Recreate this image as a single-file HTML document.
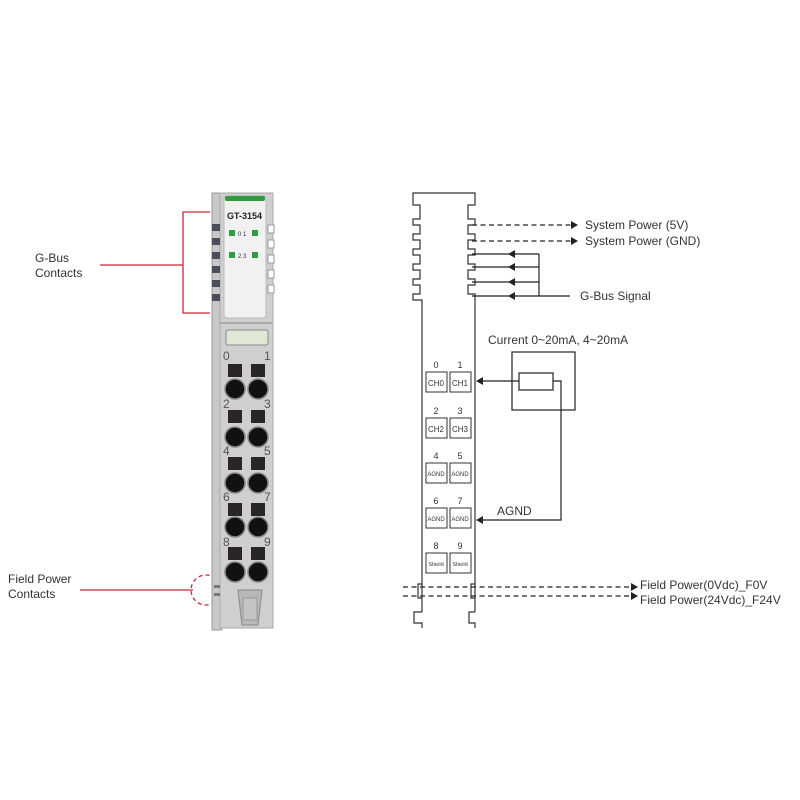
<!DOCTYPE html>
<html><head><style>body{margin:0;background:#fff}svg{display:block}text{font-family:"Liberation Sans",sans-serif}</style></head><body>
<svg width="800" height="800" viewBox="0 0 800 800" xmlns="http://www.w3.org/2000/svg">
<!-- Left labels -->
<g fill="#333" font-size="12">
<text x="35" y="262">G-Bus</text><text x="35" y="277">Contacts</text>
<text x="8" y="583">Field Power</text><text x="8" y="598">Contacts</text>
</g>
<g stroke="#c8283a" stroke-width="1.3" fill="none">
<path d="M100 265H183M210 212H183V313H210"/>
<path d="M80 590H193"/>
<circle cx="206" cy="590" r="15" stroke-dasharray="4 3"/>
</g>
<!-- Left module -->
<g>
<path d="M212 193H272V628H266V620H222V630H212Z" fill="#c8c8c8" stroke="#999"/>
<rect x="220" y="193" width="53" height="435" fill="#cfcfcf" stroke="#aaa"/>
<rect x="224" y="196" width="42" height="122" rx="3" fill="#f1f1f1" stroke="#bbb"/>
<rect x="225" y="196" width="40" height="5" rx="2" fill="#2f9a3f"/>
<text x="227" y="219" font-size="9" font-weight="bold" fill="#222">GT-3154</text>
<rect x="229" y="230" width="6" height="6" fill="#2aa040"/><rect x="252" y="230" width="6" height="6" fill="#2aa040"/>
<text x="238" y="236" font-size="6" fill="#333">0 1</text>
<rect x="229" y="252" width="6" height="6" fill="#2aa040"/><rect x="252" y="252" width="6" height="6" fill="#2aa040"/>
<text x="238" y="258" font-size="6" fill="#333">2 3</text>
<g fill="#4a4e5a">
<rect x="212" y="224" width="8" height="7"/><rect x="212" y="238" width="8" height="7"/><rect x="212" y="252" width="8" height="7"/><rect x="212" y="266" width="8" height="7"/><rect x="212" y="280" width="8" height="7"/><rect x="212" y="294" width="8" height="7"/>
</g>
<g fill="#fff" stroke="#999">
<rect x="268" y="225" width="6" height="8"/><rect x="268" y="240" width="6" height="8"/><rect x="268" y="255" width="6" height="8"/><rect x="268" y="270" width="6" height="8"/><rect x="268" y="285" width="6" height="8"/>
</g>
<rect x="220" y="322" width="53" height="2" fill="#aaa"/>
<rect x="226" y="330" width="42" height="15" rx="2" fill="#dfe8d4" stroke="#888"/>
<g font-size="12" fill="#555" font-family="Liberation Serif">
<text x="223" y="360">0</text><text x="264" y="360">1</text>
<text x="223" y="408">2</text><text x="264" y="408">3</text>
<text x="223" y="455">4</text><text x="264" y="455">5</text>
<text x="223" y="501">6</text><text x="264" y="501">7</text>
<text x="223" y="546">8</text><text x="264" y="546">9</text>
</g>
<g fill="#2a2626">
<rect x="228" y="364" width="14" height="13"/><rect x="251" y="364" width="14" height="13"/>
<rect x="228" y="410" width="14" height="13"/><rect x="251" y="410" width="14" height="13"/>
<rect x="228" y="457" width="14" height="13"/><rect x="251" y="457" width="14" height="13"/>
<rect x="228" y="503" width="14" height="13"/><rect x="251" y="503" width="14" height="13"/>
<rect x="228" y="547" width="14" height="13"/><rect x="251" y="547" width="14" height="13"/>
</g>
<g fill="#111" stroke="#888" stroke-width="1.5">
<circle cx="235" cy="389" r="10"/><circle cx="258" cy="389" r="10"/>
<circle cx="235" cy="437" r="10"/><circle cx="258" cy="437" r="10"/>
<circle cx="235" cy="483" r="10"/><circle cx="258" cy="483" r="10"/>
<circle cx="235" cy="527" r="10"/><circle cx="258" cy="527" r="10"/>
<circle cx="235" cy="572" r="10"/><circle cx="258" cy="572" r="10"/>
</g>
<rect x="214" y="585" width="6" height="3" fill="#777"/><rect x="214" y="593" width="6" height="3" fill="#777"/>
<path d="M238 590H262L258 625H242Z" fill="#b8b8b8" stroke="#888"/>
<rect x="243" y="598" width="14" height="22" fill="#c4c4c4" stroke="#999"/>
</g>
<!-- Right module -->
<g fill="none" stroke="#333" stroke-width="1.2">
<path d="M422 612V300H413V294H420V285H413V279H420V270H413V264H420V255H413V249H420V240H413V234H420V225H413V219H420V205H413V193H475V205H468V219H475V225H468V234H475V240H468V249H475V255H468V264H475V270H468V279H475V285H468V294H475V612"/>
<path d="M422 584H418V598H422M475 584H471V598H475" />
<path d="M422 612H414V623H422V628M475 612H469V623H475V628"/>
</g>
<g fill="none" stroke="#333" stroke-width="1">
<rect x="426" y="372" width="21" height="20"/><rect x="450" y="372" width="21" height="20"/>
<rect x="426" y="418" width="21" height="20"/><rect x="450" y="418" width="21" height="20"/>
<rect x="426" y="463" width="21" height="20"/><rect x="450" y="463" width="21" height="20"/>
<rect x="426" y="508" width="21" height="20"/><rect x="450" y="508" width="21" height="20"/>
<rect x="426" y="553" width="21" height="20"/><rect x="450" y="553" width="21" height="20"/>
</g>
<g font-size="9" fill="#333" text-anchor="middle">
<text x="436" y="368">0</text><text x="460" y="368">1</text>
<text x="436" y="414">2</text><text x="460" y="414">3</text>
<text x="436" y="459">4</text><text x="460" y="459">5</text>
<text x="436" y="504">6</text><text x="460" y="504">7</text>
<text x="436" y="549">8</text><text x="460" y="549">9</text>
<text x="436" y="386" font-size="8">CH0</text><text x="460" y="386" font-size="8">CH1</text>
<text x="436" y="432" font-size="8">CH2</text><text x="460" y="432" font-size="8">CH3</text>
<text x="436" y="476" font-size="6">AGND</text><text x="460" y="476" font-size="6">AGND</text>
<text x="436" y="521" font-size="6">AGND</text><text x="460" y="521" font-size="6">AGND</text>
<text x="436" y="566" font-size="5.5">Shield</text><text x="460" y="566" font-size="5.5">Shield</text>
</g>
<!-- connectors -->
<g stroke="#222" stroke-width="1.2" fill="none">
<path d="M472 225H572M472 241H572M403 587H632M403 596H632" stroke-dasharray="5 3.5"/>
<path d="M472 254H539M472 267H539M472 282H539M472 296H570M539 254V296"/>
<rect x="512" y="352" width="63" height="58"/>
<rect x="519" y="373" width="34" height="17"/>
<path d="M519 381H481M553 381H561V520H481"/>
</g>
<g fill="#222">
<path d="M578 225l-7-4v8zM578 241l-7-4v8zM638 587l-7-4v8zM638 596l-7-4v8z"/>
<path d="M508 254l7-4v8zM508 267l7-4v8zM508 282l7-4v8zM508 296l7-4v8z"/>
<path d="M476 381l7-4v8zM476 520l7-4v8z"/>
</g>
<g font-size="12" fill="#333">
<text x="585" y="229">System Power (5V)</text>
<text x="585" y="245">System Power (GND)</text>
<text x="580" y="300">G-Bus Signal</text>
<text x="488" y="344">Current 0~20mA, 4~20mA</text>
<text x="497" y="515">AGND</text>
<text x="640" y="589">Field Power(0Vdc)_F0V</text>
<text x="640" y="604">Field Power(24Vdc)_F24V</text>
</g>
</svg>
</body></html>
